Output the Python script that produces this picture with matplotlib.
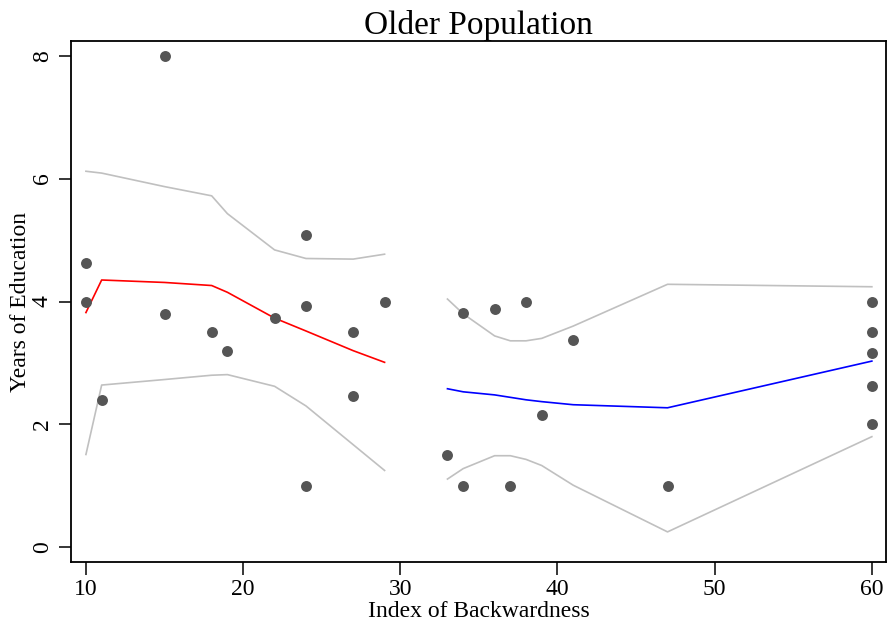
import numpy as np
import matplotlib
matplotlib.use("Agg")
import matplotlib.pyplot as plt

plt.rcParams["font.family"] = ["Liberation Serif", "DejaVu Serif"]

# Scatter points
pts_x = [10, 10, 11, 15, 15, 18, 19, 22, 24, 24, 24, 27, 27, 29,
         33, 34, 34, 36, 37, 38, 39, 41, 47, 60, 60, 60, 60, 60]
pts_y = [4.62, 4.0, 2.40, 8.0, 3.80, 3.50, 3.20, 3.73, 5.08, 3.92, 1.0, 3.50, 2.46, 4.0,
         1.50, 3.81, 1.0, 3.88, 1.0, 4.0, 2.16, 3.37, 1.0, 4.0, 3.50, 3.16, 2.63, 2.0]

# Fit below 30 (red) with band
left_x = [10, 11, 15, 18, 19, 22, 24, 27, 29]
left_fit = [3.82, 4.35, 4.31, 4.26, 4.15, 3.73, 3.52, 3.20, 3.01]
left_hi = [6.12, 6.09, 5.87, 5.72, 5.43, 4.84, 4.70, 4.69, 4.77]
left_lo = [1.51, 2.64, 2.73, 2.80, 2.81, 2.62, 2.30, 1.67, 1.25]

# Fit above 30 (blue) with band
right_x = [33, 34, 36, 37, 38, 39, 41, 47, 60]
right_fit = [2.58, 2.53, 2.48, 2.44, 2.40, 2.37, 2.32, 2.27, 3.03]
right_hi = [4.04, 3.80, 3.44, 3.36, 3.36, 3.40, 3.60, 4.28, 4.24]
right_lo = [1.11, 1.28, 1.49, 1.49, 1.43, 1.33, 1.01, 0.25, 1.80]

x_ticks = [10, 20, 30, 40, 50, 60]
y_ticks = [0, 2, 4, 6, 8]

fig = plt.figure(figsize=(8.88, 6.26), dpi=100)
ax = fig.add_axes([71 / 888, 1 - 562 / 626, 815 / 888, 521 / 626])

band_col = "#c0c0c0"
ax.plot(left_x, left_hi, color=band_col, lw=1.2)
ax.plot(left_x, left_lo, color=band_col, lw=1.2)
ax.plot(right_x, right_hi, color=band_col, lw=1.2)
ax.plot(right_x, right_lo, color=band_col, lw=1.2)
ax.plot(left_x, left_fit, color="red", lw=1.2)
ax.plot(right_x, right_fit, color="blue", lw=1.2)
ax.scatter(pts_x, pts_y, s=62, color="#555555", zorder=3, linewidths=0)

ax.set_xlim(9.05, 60.9)
ax.set_ylim(-0.24, 8.24)
ax.set_xticks(x_ticks)
ax.set_yticks(y_ticks)
ax.set_yticklabels([str(v) for v in y_ticks], rotation=90, va="center")
ax.tick_params(axis="both", labelsize=17, length=9, width=1.1, color="black")
ax.tick_params(axis="y", pad=4)
ax.tick_params(axis="x", pad=3)
for sp in ax.spines.values():
    sp.set_linewidth(1.3)

ax.set_title("Older Population", fontsize=24, pad=5)
ax.set_xlabel("Index of Backwardness", fontsize=17, labelpad=1)
ax.set_ylabel("Years of Education", fontsize=17, labelpad=1)

plt.savefig("out.png", dpi=100)
